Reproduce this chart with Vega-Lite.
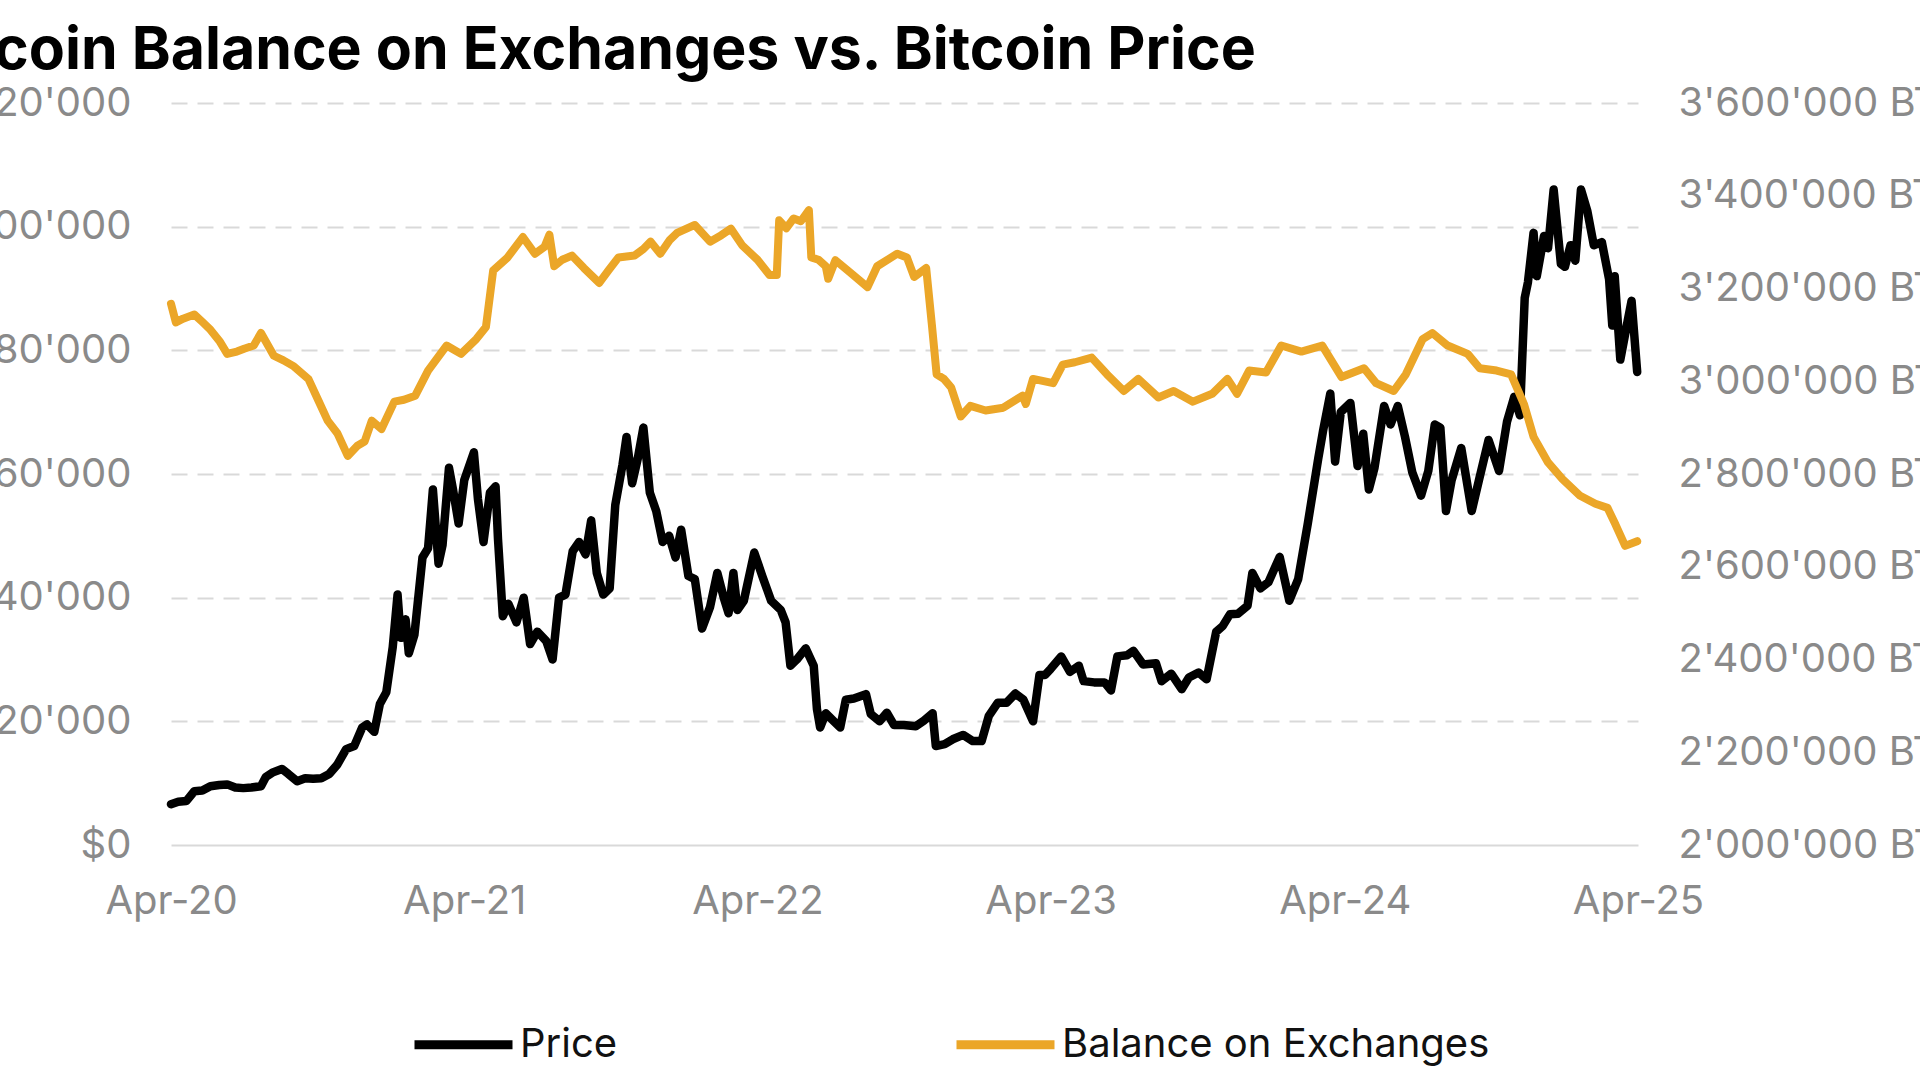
{
  "$schema": "https://vega.github.io/schema/vega-lite/v6.json",
  "width": 1467,
  "height": 742,
  "autosize": {"type": "none"},
  "padding": {"left": 171, "top": 103, "right": 282, "bottom": 235},
  "background": "white",
  "title": {
    "text": "Bitcoin Balance on Exchanges vs. Bitcoin Price",
    "anchor": "start",
    "frame": "group",
    "font": "Inter",
    "fontSize": 59,
    "fontWeight": "bold",
    "color": "#000000",
    "dx": -253,
    "dy": -2,
    "offset": 0
  },
  "config": {
    "view": {"stroke": null},
    "font": "Inter",
    "axis": {"labelFont": "Inter", "labelFontSize": 40, "labelColor": "#8a8a8a", "labelLimit": 0, "title": null, "domain": false, "ticks": false},
    "legend": {
      "orient": "none",
      "legendX": 239,
      "legendY": 888,
      "direction": "horizontal",
      "columns": 2,
      "columnPadding": 320,
      "title": null,
      "symbolType": "stroke",
      "symbolSize": 9604,
      "symbolStrokeWidth": 9,
      "labelFont": "Inter",
      "labelFontSize": 40,
      "labelColor": "#111111",
      "labelLimit": 0,
      "labelOffset": 3
    }
  },
  "datasets": {
    "price": [
      {"date": "2020-04-01", "value": 6600},
      {"date": "2020-04-10", "value": 7000},
      {"date": "2020-04-20", "value": 7100},
      {"date": "2020-04-30", "value": 8700},
      {"date": "2020-05-10", "value": 8800},
      {"date": "2020-05-20", "value": 9500},
      {"date": "2020-05-31", "value": 9700},
      {"date": "2020-06-10", "value": 9800},
      {"date": "2020-06-20", "value": 9300},
      {"date": "2020-06-30", "value": 9200},
      {"date": "2020-07-10", "value": 9300},
      {"date": "2020-07-22", "value": 9500},
      {"date": "2020-07-28", "value": 11000},
      {"date": "2020-08-05", "value": 11700},
      {"date": "2020-08-17", "value": 12300},
      {"date": "2020-08-25", "value": 11500},
      {"date": "2020-09-05", "value": 10300},
      {"date": "2020-09-15", "value": 10800},
      {"date": "2020-09-25", "value": 10700},
      {"date": "2020-10-05", "value": 10800},
      {"date": "2020-10-15", "value": 11500},
      {"date": "2020-10-25", "value": 13000},
      {"date": "2020-11-05", "value": 15500},
      {"date": "2020-11-15", "value": 16000},
      {"date": "2020-11-25", "value": 19000},
      {"date": "2020-12-01", "value": 19500},
      {"date": "2020-12-10", "value": 18300},
      {"date": "2020-12-17", "value": 22800},
      {"date": "2020-12-25", "value": 24700},
      {"date": "2021-01-02", "value": 32000},
      {"date": "2021-01-08", "value": 40500},
      {"date": "2021-01-12", "value": 33500},
      {"date": "2021-01-18", "value": 36500},
      {"date": "2021-01-22", "value": 31000},
      {"date": "2021-01-29", "value": 34000},
      {"date": "2021-02-08", "value": 46500},
      {"date": "2021-02-15", "value": 48000},
      {"date": "2021-02-21", "value": 57500},
      {"date": "2021-02-28", "value": 45500},
      {"date": "2021-03-05", "value": 48500},
      {"date": "2021-03-13", "value": 61000},
      {"date": "2021-03-18", "value": 57500},
      {"date": "2021-03-25", "value": 52000},
      {"date": "2021-04-01", "value": 59000},
      {"date": "2021-04-13", "value": 63500},
      {"date": "2021-04-18", "value": 56000},
      {"date": "2021-04-25", "value": 49000},
      {"date": "2021-05-03", "value": 57000},
      {"date": "2021-05-10", "value": 58000},
      {"date": "2021-05-13", "value": 49500},
      {"date": "2021-05-19", "value": 37000},
      {"date": "2021-05-26", "value": 39000},
      {"date": "2021-06-05", "value": 36000},
      {"date": "2021-06-14", "value": 40000},
      {"date": "2021-06-22", "value": 32500},
      {"date": "2021-07-01", "value": 34500},
      {"date": "2021-07-12", "value": 33000},
      {"date": "2021-07-20", "value": 30000},
      {"date": "2021-07-28", "value": 40000},
      {"date": "2021-08-05", "value": 40500},
      {"date": "2021-08-14", "value": 47500},
      {"date": "2021-08-22", "value": 49000},
      {"date": "2021-08-30", "value": 47000},
      {"date": "2021-09-06", "value": 52500},
      {"date": "2021-09-13", "value": 44000},
      {"date": "2021-09-21", "value": 40500},
      {"date": "2021-09-29", "value": 41500},
      {"date": "2021-10-06", "value": 55000},
      {"date": "2021-10-15", "value": 61500},
      {"date": "2021-10-20", "value": 66000},
      {"date": "2021-10-27", "value": 58500},
      {"date": "2021-11-03", "value": 62500},
      {"date": "2021-11-10", "value": 67500},
      {"date": "2021-11-18", "value": 57000},
      {"date": "2021-11-26", "value": 54000},
      {"date": "2021-12-04", "value": 49000},
      {"date": "2021-12-12", "value": 50000},
      {"date": "2021-12-20", "value": 46500},
      {"date": "2021-12-27", "value": 51000},
      {"date": "2022-01-05", "value": 43500},
      {"date": "2022-01-13", "value": 43000},
      {"date": "2022-01-22", "value": 35000},
      {"date": "2022-02-01", "value": 38500},
      {"date": "2022-02-10", "value": 44000},
      {"date": "2022-02-18", "value": 40000},
      {"date": "2022-02-24", "value": 37500},
      {"date": "2022-03-02", "value": 44000},
      {"date": "2022-03-07", "value": 38000},
      {"date": "2022-03-15", "value": 39500},
      {"date": "2022-03-28", "value": 47300},
      {"date": "2022-04-07", "value": 43500},
      {"date": "2022-04-18", "value": 39500},
      {"date": "2022-04-30", "value": 38000},
      {"date": "2022-05-06", "value": 36000},
      {"date": "2022-05-12", "value": 29000},
      {"date": "2022-05-20", "value": 30000},
      {"date": "2022-05-31", "value": 31800},
      {"date": "2022-06-10", "value": 29000},
      {"date": "2022-06-14", "value": 22000},
      {"date": "2022-06-18", "value": 19000},
      {"date": "2022-06-25", "value": 21300},
      {"date": "2022-07-05", "value": 20000},
      {"date": "2022-07-13", "value": 19000},
      {"date": "2022-07-20", "value": 23500},
      {"date": "2022-07-30", "value": 23700},
      {"date": "2022-08-14", "value": 24400},
      {"date": "2022-08-20", "value": 21200},
      {"date": "2022-08-31", "value": 20000},
      {"date": "2022-09-09", "value": 21400},
      {"date": "2022-09-18", "value": 19400},
      {"date": "2022-09-30", "value": 19400},
      {"date": "2022-10-15", "value": 19200},
      {"date": "2022-10-25", "value": 20100},
      {"date": "2022-11-05", "value": 21300},
      {"date": "2022-11-09", "value": 16000},
      {"date": "2022-11-20", "value": 16300},
      {"date": "2022-11-30", "value": 17100},
      {"date": "2022-12-13", "value": 17800},
      {"date": "2022-12-25", "value": 16800},
      {"date": "2023-01-05", "value": 16800},
      {"date": "2023-01-14", "value": 20900},
      {"date": "2023-01-25", "value": 23000},
      {"date": "2023-02-05", "value": 23000},
      {"date": "2023-02-16", "value": 24500},
      {"date": "2023-02-26", "value": 23500},
      {"date": "2023-03-10", "value": 20000},
      {"date": "2023-03-18", "value": 27500},
      {"date": "2023-03-25", "value": 27500},
      {"date": "2023-04-01", "value": 28500},
      {"date": "2023-04-14", "value": 30500},
      {"date": "2023-04-25", "value": 28000},
      {"date": "2023-05-06", "value": 29000},
      {"date": "2023-05-12", "value": 26500},
      {"date": "2023-05-25", "value": 26300},
      {"date": "2023-06-07", "value": 26300},
      {"date": "2023-06-15", "value": 25000},
      {"date": "2023-06-23", "value": 30500},
      {"date": "2023-07-05", "value": 30700},
      {"date": "2023-07-13", "value": 31400},
      {"date": "2023-07-25", "value": 29200},
      {"date": "2023-08-10", "value": 29400},
      {"date": "2023-08-17", "value": 26500},
      {"date": "2023-08-29", "value": 27700},
      {"date": "2023-09-11", "value": 25200},
      {"date": "2023-09-20", "value": 27100},
      {"date": "2023-10-02", "value": 27900},
      {"date": "2023-10-12", "value": 26800},
      {"date": "2023-10-24", "value": 34500},
      {"date": "2023-11-01", "value": 35400},
      {"date": "2023-11-10", "value": 37300},
      {"date": "2023-11-20", "value": 37400},
      {"date": "2023-12-02", "value": 38700},
      {"date": "2023-12-08", "value": 44000},
      {"date": "2023-12-18", "value": 41500},
      {"date": "2023-12-28", "value": 42500},
      {"date": "2024-01-11", "value": 46600},
      {"date": "2024-01-23", "value": 39500},
      {"date": "2024-02-03", "value": 43000},
      {"date": "2024-02-15", "value": 52000},
      {"date": "2024-02-28", "value": 62500},
      {"date": "2024-03-05", "value": 67000},
      {"date": "2024-03-14", "value": 73000},
      {"date": "2024-03-20", "value": 62000},
      {"date": "2024-03-27", "value": 70000},
      {"date": "2024-04-08", "value": 71500},
      {"date": "2024-04-17", "value": 61300},
      {"date": "2024-04-24", "value": 66500},
      {"date": "2024-05-01", "value": 57500},
      {"date": "2024-05-08", "value": 61000},
      {"date": "2024-05-20", "value": 71000},
      {"date": "2024-05-28", "value": 68000},
      {"date": "2024-06-06", "value": 71000},
      {"date": "2024-06-15", "value": 66000},
      {"date": "2024-06-24", "value": 60300},
      {"date": "2024-07-05", "value": 56500},
      {"date": "2024-07-14", "value": 60500},
      {"date": "2024-07-22", "value": 68000},
      {"date": "2024-07-29", "value": 67500},
      {"date": "2024-08-05", "value": 54000},
      {"date": "2024-08-12", "value": 59000},
      {"date": "2024-08-24", "value": 64200},
      {"date": "2024-09-06", "value": 54000},
      {"date": "2024-09-15", "value": 59000},
      {"date": "2024-09-27", "value": 65500},
      {"date": "2024-10-10", "value": 60500},
      {"date": "2024-10-20", "value": 68500},
      {"date": "2024-10-29", "value": 72500},
      {"date": "2024-11-05", "value": 69500},
      {"date": "2024-11-11", "value": 88500},
      {"date": "2024-11-15", "value": 91000},
      {"date": "2024-11-22", "value": 99000},
      {"date": "2024-11-26", "value": 92000},
      {"date": "2024-12-05", "value": 98500},
      {"date": "2024-12-10", "value": 96500},
      {"date": "2024-12-17", "value": 106000},
      {"date": "2024-12-26", "value": 94000},
      {"date": "2024-12-31", "value": 93500},
      {"date": "2025-01-07", "value": 97000},
      {"date": "2025-01-13", "value": 94500},
      {"date": "2025-01-20", "value": 106000},
      {"date": "2025-01-28", "value": 102500},
      {"date": "2025-02-05", "value": 97000},
      {"date": "2025-02-15", "value": 97500},
      {"date": "2025-02-24", "value": 91500},
      {"date": "2025-02-28", "value": 84000},
      {"date": "2025-03-03", "value": 92000},
      {"date": "2025-03-10", "value": 78500},
      {"date": "2025-03-18", "value": 84000},
      {"date": "2025-03-24", "value": 88000},
      {"date": "2025-03-31", "value": 76500}
    ],
    "balance": [
      {"date": "2020-04-01", "value": 3167000},
      {"date": "2020-04-07", "value": 3127000},
      {"date": "2020-04-16", "value": 3135000},
      {"date": "2020-04-30", "value": 3144000},
      {"date": "2020-05-10", "value": 3128000},
      {"date": "2020-05-19", "value": 3113000},
      {"date": "2020-06-01", "value": 3085000},
      {"date": "2020-06-10", "value": 3059000},
      {"date": "2020-06-22", "value": 3064000},
      {"date": "2020-07-01", "value": 3070000},
      {"date": "2020-07-13", "value": 3077000},
      {"date": "2020-07-22", "value": 3104000},
      {"date": "2020-08-07", "value": 3055000},
      {"date": "2020-08-19", "value": 3045000},
      {"date": "2020-09-01", "value": 3032000},
      {"date": "2020-09-19", "value": 3005000},
      {"date": "2020-10-01", "value": 2960000},
      {"date": "2020-10-13", "value": 2915000},
      {"date": "2020-10-25", "value": 2888000},
      {"date": "2020-11-07", "value": 2839000},
      {"date": "2020-11-19", "value": 2861000},
      {"date": "2020-11-28", "value": 2870000},
      {"date": "2020-12-07", "value": 2915000},
      {"date": "2020-12-19", "value": 2897000},
      {"date": "2021-01-04", "value": 2956000},
      {"date": "2021-01-16", "value": 2960000},
      {"date": "2021-01-30", "value": 2969000},
      {"date": "2021-02-15", "value": 3023000},
      {"date": "2021-03-10", "value": 3077000},
      {"date": "2021-03-28", "value": 3059000},
      {"date": "2021-04-16", "value": 3091000},
      {"date": "2021-04-28", "value": 3117000},
      {"date": "2021-05-07", "value": 3239000},
      {"date": "2021-05-25", "value": 3267000},
      {"date": "2021-06-13", "value": 3311000},
      {"date": "2021-06-28", "value": 3275000},
      {"date": "2021-07-10", "value": 3290000},
      {"date": "2021-07-16", "value": 3316000},
      {"date": "2021-07-22", "value": 3248000},
      {"date": "2021-08-01", "value": 3262000},
      {"date": "2021-08-13", "value": 3271000},
      {"date": "2021-08-28", "value": 3244000},
      {"date": "2021-09-16", "value": 3212000},
      {"date": "2021-09-28", "value": 3240000},
      {"date": "2021-10-10", "value": 3267000},
      {"date": "2021-10-30", "value": 3271000},
      {"date": "2021-11-10", "value": 3285000},
      {"date": "2021-11-19", "value": 3301000},
      {"date": "2021-12-01", "value": 3275000},
      {"date": "2021-12-13", "value": 3305000},
      {"date": "2021-12-22", "value": 3320000},
      {"date": "2022-01-13", "value": 3337000},
      {"date": "2022-02-01", "value": 3301000},
      {"date": "2022-02-15", "value": 3315000},
      {"date": "2022-02-27", "value": 3329000},
      {"date": "2022-03-13", "value": 3293000},
      {"date": "2022-04-01", "value": 3262000},
      {"date": "2022-04-16", "value": 3229000},
      {"date": "2022-04-25", "value": 3229000},
      {"date": "2022-04-28", "value": 3347000},
      {"date": "2022-05-07", "value": 3330000},
      {"date": "2022-05-16", "value": 3351000},
      {"date": "2022-05-25", "value": 3345000},
      {"date": "2022-06-04", "value": 3369000},
      {"date": "2022-06-07", "value": 3267000},
      {"date": "2022-06-16", "value": 3262000},
      {"date": "2022-06-25", "value": 3248000},
      {"date": "2022-06-28", "value": 3221000},
      {"date": "2022-07-07", "value": 3261000},
      {"date": "2022-07-25", "value": 3235000},
      {"date": "2022-08-16", "value": 3203000},
      {"date": "2022-08-28", "value": 3248000},
      {"date": "2022-09-22", "value": 3275000},
      {"date": "2022-10-04", "value": 3267000},
      {"date": "2022-10-13", "value": 3225000},
      {"date": "2022-10-28", "value": 3244000},
      {"date": "2022-11-04", "value": 3123000},
      {"date": "2022-11-10", "value": 3015000},
      {"date": "2022-11-19", "value": 3005000},
      {"date": "2022-11-28", "value": 2987000},
      {"date": "2022-12-10", "value": 2924000},
      {"date": "2022-12-22", "value": 2947000},
      {"date": "2023-01-10", "value": 2937000},
      {"date": "2023-02-01", "value": 2943000},
      {"date": "2023-02-25", "value": 2969000},
      {"date": "2023-03-01", "value": 2951000},
      {"date": "2023-03-10", "value": 3005000},
      {"date": "2023-04-04", "value": 2996000},
      {"date": "2023-04-16", "value": 3036000},
      {"date": "2023-05-01", "value": 3041000},
      {"date": "2023-05-22", "value": 3051000},
      {"date": "2023-06-10", "value": 3015000},
      {"date": "2023-07-01", "value": 2979000},
      {"date": "2023-07-19", "value": 3005000},
      {"date": "2023-08-13", "value": 2965000},
      {"date": "2023-09-01", "value": 2979000},
      {"date": "2023-09-25", "value": 2956000},
      {"date": "2023-10-19", "value": 2973000},
      {"date": "2023-11-07", "value": 3005000},
      {"date": "2023-11-19", "value": 2973000},
      {"date": "2023-12-04", "value": 3023000},
      {"date": "2023-12-25", "value": 3019000},
      {"date": "2024-01-13", "value": 3077000},
      {"date": "2024-02-07", "value": 3064000},
      {"date": "2024-03-04", "value": 3077000},
      {"date": "2024-03-28", "value": 3009000},
      {"date": "2024-04-25", "value": 3028000},
      {"date": "2024-05-10", "value": 2996000},
      {"date": "2024-06-01", "value": 2979000},
      {"date": "2024-06-16", "value": 3015000},
      {"date": "2024-07-07", "value": 3091000},
      {"date": "2024-07-19", "value": 3104000},
      {"date": "2024-08-07", "value": 3077000},
      {"date": "2024-09-01", "value": 3059000},
      {"date": "2024-09-16", "value": 3028000},
      {"date": "2024-10-07", "value": 3023000},
      {"date": "2024-10-25", "value": 3015000},
      {"date": "2024-11-10", "value": 2951000},
      {"date": "2024-11-22", "value": 2880000},
      {"date": "2024-12-10", "value": 2825000},
      {"date": "2024-12-28", "value": 2789000},
      {"date": "2025-01-19", "value": 2753000},
      {"date": "2025-02-07", "value": 2736000},
      {"date": "2025-02-22", "value": 2727000},
      {"date": "2025-03-04", "value": 2691000},
      {"date": "2025-03-16", "value": 2645000},
      {"date": "2025-03-31", "value": 2655000}
    ]
  },
  "encoding": {
    "x": {
      "field": "date",
      "type": "temporal",
      "scale": {
        "type": "utc",
        "domain": [
          {"year": 2020, "month": 4, "date": 1, "utc": true},
          {"year": 2025, "month": 4, "date": 1, "utc": true}
        ]
      },
      "axis": {
        "values": [
          {"year": 2020, "month": 4, "date": 1, "utc": true},
          {"year": 2021, "month": 4, "date": 1, "utc": true},
          {"year": 2022, "month": 4, "date": 1, "utc": true},
          {"year": 2023, "month": 4, "date": 1, "utc": true},
          {"year": 2024, "month": 4, "date": 1, "utc": true},
          {"year": 2025, "month": 4, "date": 1, "utc": true}
        ],
        "labelExpr": "utcFormat(datum.value, '%b-%y')",
        "labelPadding": 36,
        "labelFlush": false,
        "labelOverlap": false,
        "grid": false
      }
    }
  },
  "layer": [
    {
      "data": {"name": "price"},
      "mark": {"type": "line", "strokeWidth": 8.5, "strokeJoin": "round", "strokeCap": "round"},
      "encoding": {
        "y": {
          "field": "value",
          "type": "quantitative",
          "scale": {"domain": [0, 120000]},
          "axis": {
            "orient": "left",
            "values": [0, 20000, 40000, 60000, 80000, 100000, 120000],
            "labelExpr": "'$' + replace(format(datum.value, ','), ',', \"'\")",
            "labelPadding": 40,
            "grid": true,
            "gridColor": "#d9d9d9",
            "gridWidth": 2,
            "gridDash": {"condition": {"test": "datum.value === 0", "value": []}, "value": [16, 10]}
          }
        },
        "color": {
          "datum": "Price",
          "type": "nominal",
          "scale": {"domain": ["Price", "Balance on Exchanges"], "range": ["#000000", "#EBA628"]}
        }
      }
    },
    {
      "data": {"name": "balance"},
      "mark": {"type": "line", "strokeWidth": 8, "strokeJoin": "round", "strokeCap": "round"},
      "encoding": {
        "y": {
          "field": "value",
          "type": "quantitative",
          "scale": {"domain": [2000000, 3600000]},
          "axis": {
            "orient": "right",
            "values": [2000000, 2200000, 2400000, 2600000, 2800000, 3000000, 3200000, 3400000, 3600000],
            "labelExpr": "replace(replace(format(datum.value, ','), ',', \"'\"), ',', \"'\") + ' BTC'",
            "labelPadding": 40,
            "grid": false
          }
        },
        "color": {"datum": "Balance on Exchanges", "type": "nominal"}
      }
    }
  ],
  "resolve": {"scale": {"y": "independent"}}
}
